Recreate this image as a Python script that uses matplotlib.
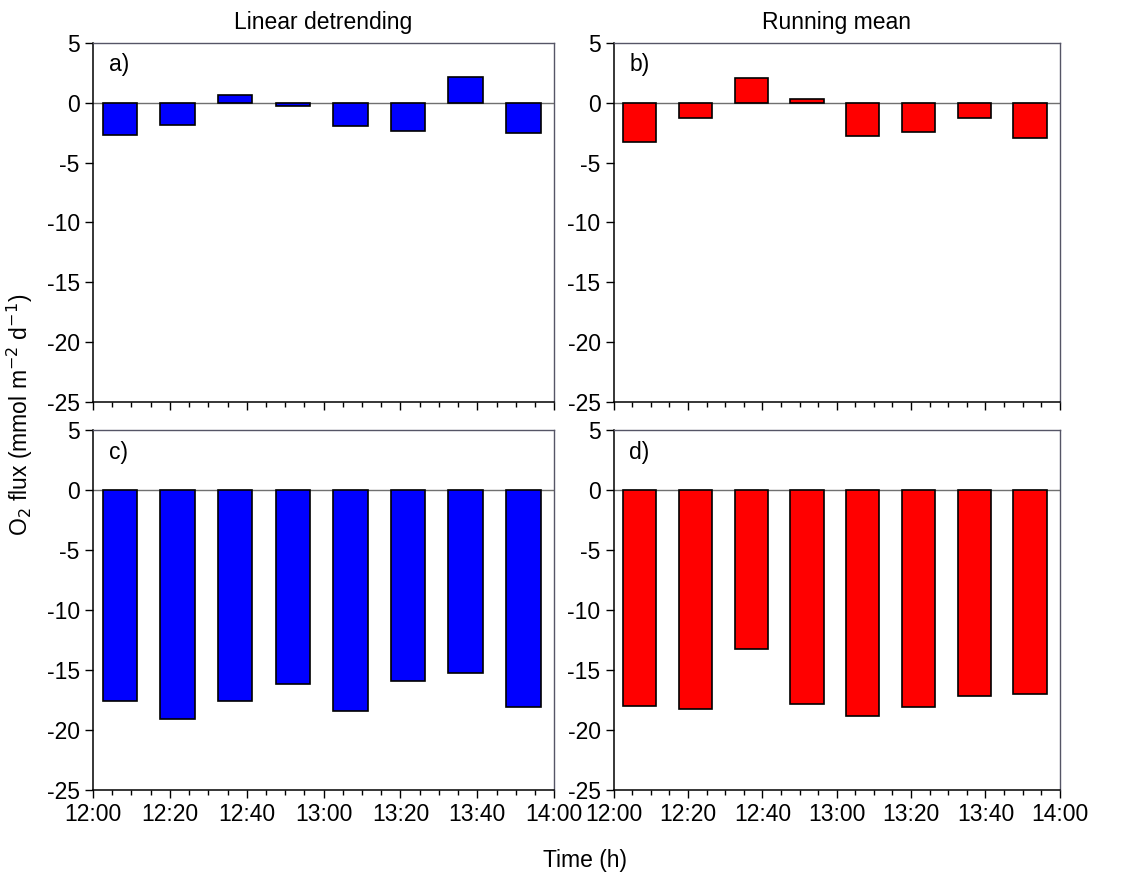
import matplotlib.pyplot as plt
from matplotlib.ticker import MultipleLocator

plt.rcParams['font.family'] = ['Liberation Sans', 'DejaVu Sans']
plt.rcParams['axes.unicode_minus'] = False

# Centre of each 15 min flux window, minutes after 12:00
t_mid = [7, 22, 37, 52, 67, 82, 97, 112]
t_ticks = [0, 20, 40, 60, 80, 100, 120]
t_labels = ['12:00', '12:20', '12:40', '13:00', '13:20', '13:40', '14:00']

# O2 flux (mmol m-2 d-1)
flux_a = [-2.73, -1.89, 0.64, -0.31, -1.95, -2.37, 2.17, -2.56]
flux_b = [-3.31, -1.26, 2.10, 0.31, -2.81, -2.42, -1.29, -2.98]
flux_c = [-17.58, -19.08, -17.56, -16.14, -18.45, -15.87, -15.25, -18.06]
flux_d = [-17.97, -18.27, -13.27, -17.83, -18.86, -18.05, -17.19, -17.00]

fig = plt.figure(figsize=(11.22, 8.77), dpi=100)

panels = [
    ([0.0829, 0.542, 0.411, 0.409], flux_a, 'blue', 'a)', 'Linear detrending'),
    ([0.547, 0.542, 0.3975, 0.409], flux_b, 'red', 'b)', 'Running mean'),
    ([0.0829, 0.0992, 0.411, 0.410], flux_c, 'blue', 'c)', None),
    ([0.547, 0.0992, 0.3975, 0.410], flux_d, 'red', 'd)', None),
]

fs = 16.5
for pos, vals, col, lab, title in panels:
    ax = fig.add_axes(pos)
    ax.bar(t_mid, vals, width=9, color=col, edgecolor='black', linewidth=1.2, zorder=3)
    ax.axhline(0, color='#707070', linewidth=1.0, zorder=2)
    ax.set_xlim(0, 120)
    ax.set_ylim(-25, 5)
    ax.set_yticks(range(-25, 6, 5))
    ax.set_xticks(t_ticks)
    ax.xaxis.set_minor_locator(MultipleLocator(5))
    ax.tick_params(axis='both', which='major', direction='out', length=6, width=1, labelsize=fs)
    ax.tick_params(axis='x', which='minor', direction='out', length=3.5, width=1)
    if title is None:
        ax.set_xticklabels(t_labels)
    else:
        ax.set_xticklabels([])
        ax.set_title(title, fontsize=fs, pad=10)
    for s in ['left', 'bottom']:
        ax.spines[s].set_color('black')
        ax.spines[s].set_linewidth(1.1)
    for s in ['top', 'right']:
        ax.spines[s].set_color('#555566')
        ax.spines[s].set_linewidth(1.0)
    ax.text(0.035, 0.939, lab, transform=ax.transAxes, fontsize=fs, ha='left', va='center')

fig.text(0.018, 0.527, 'O$_2$ flux (mmol m$^{-2}$ d$^{-1}$)', rotation=90,
         fontsize=fs, ha='center', va='center')
fig.text(0.521, 0.019, 'Time (h)', fontsize=fs, ha='center', va='center')

fig.savefig('out.png', dpi=100)
